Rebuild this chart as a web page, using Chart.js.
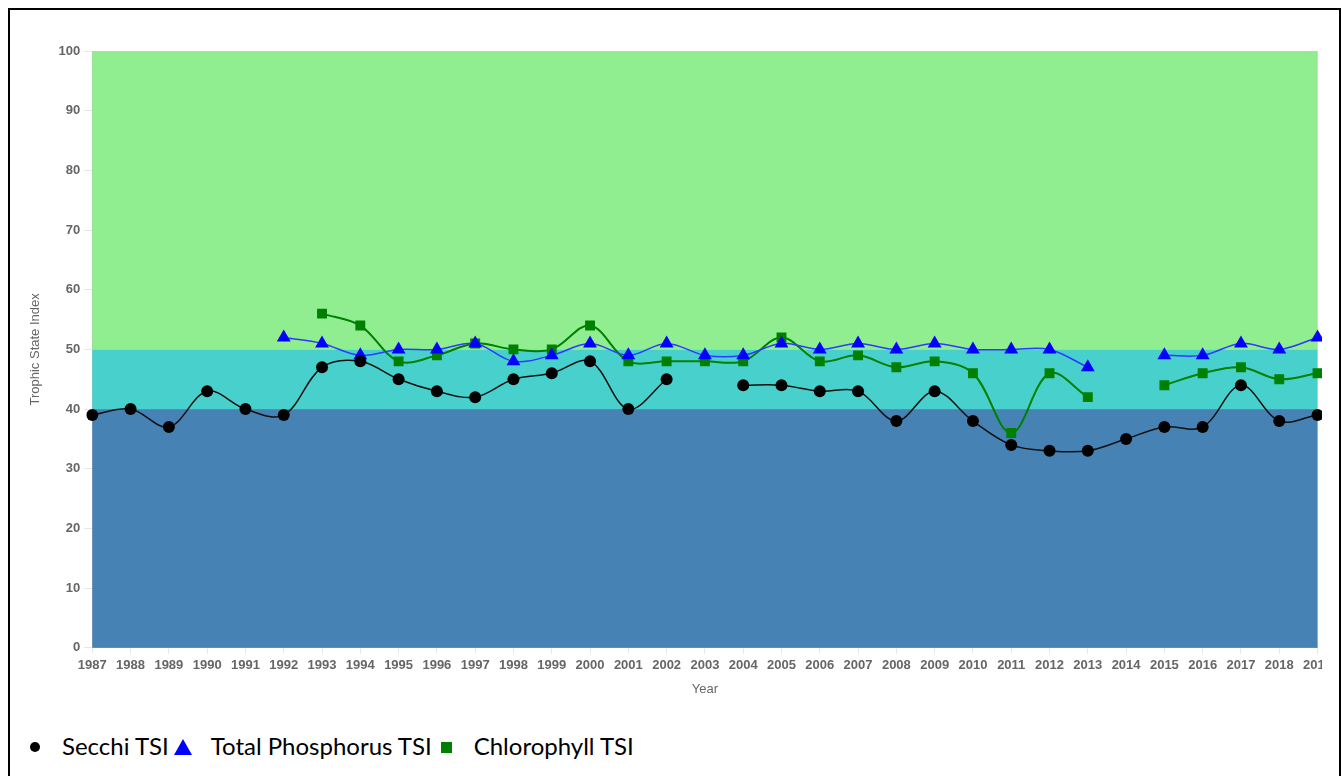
<!DOCTYPE html>
<html>
<head>
<meta charset="utf-8">
<script src="https://cdn.jsdelivr.net/npm/chart.js@4/dist/chart.umd.min.js"></script>
<style>
    html, body { margin: 0; padding: 0; background: #fff; }
    body { width: 1342px; height: 776px; overflow: hidden; position: relative; }
    #frame { position: absolute; left: 8px; top: 8px; width: 1333px; height: 800px; border: 2px solid #000; box-sizing: border-box; }
    #chart-wrap { position: absolute; left: 10px; top: 10px; width: 1312px; height: 687px; overflow: hidden; }
    #legend { position: absolute; left: 21px; top: 731px; font-family: Lato, "Noto Sans", sans-serif; font-size: 24px; color: #000; white-space: nowrap; }
    #legend .mark { display: inline-block; width: 27px; text-align: center; }
    #legend .label { margin-left: 14px; }
    #legend .label + .mark { margin-left: 1px; }
    .shape-circle { display: inline-block; width: 10px; height: 10px; border-radius: 50%; vertical-align: 3px; }
    .shape-triangle { display: inline-block; width: 0; height: 0; border-left: 9px solid transparent; border-right: 9px solid transparent; border-bottom-width: 16px; border-bottom-style: solid; vertical-align: 0; }
    .shape-rect { display: inline-block; width: 11px; height: 11px; vertical-align: 2px; }
</style>
</head>
<body>
<div id="frame"></div>
<div id="chart-wrap"><canvas id="tsiChart" width="1326" height="687"></canvas></div>
<div id="legend"></div>
<script>
const years = [1987, 1988, 1989, 1990, 1991, 1992, 1993, 1994, 1995, 1996, 1997, 1998, 1999, 2000, 2001, 2002, 2003,
    2004, 2005, 2006, 2007, 2008, 2009, 2010, 2011, 2012, 2013, 2014, 2015, 2016, 2017, 2018, 2019];
const secchi = [39, 40, 37, 43, 40, 39, 47, 48, 45, 43, 42, 45, 46, 48, 40, 45, null,
    44, 44, 43, 43, 38, 43, 38, 34, 33, 33, 35, 37, 37, 44, 38, 39];
const phosphorus = [null, null, null, null, null, 52, 51, 49, 50, 50, 51, 48, 49, 51, 49, 51, 49,
    49, 51, 50, 51, 50, 51, 50, 50, 50, 47, null, 49, 49, 51, 50, 52];
const chlorophyll = [null, null, null, null, null, null, 56, 54, 48, 49, 51, 50, 50, 54, 48, 48, 48,
    48, 52, 48, 49, 47, 48, 46, 36, 46, 42, null, 44, 46, 47, 45, 46];

// trophic state bands (TSI limits)
const bandLimits = [0, 40, 50, 100];
const bandColors = ['#4682B4', '#48D1CC', '#90EE90'];

const bandPlugin = {
    id: 'bands',
    beforeDatasetsDraw(chart) {
        const ctx = chart.ctx;
        const area = chart.chartArea;
        const y = chart.scales.y;
        ctx.save();
        for (let i = 0; i < bandColors.length; i++) {
            const top = y.getPixelForValue(bandLimits[i + 1]);
            const bottom = y.getPixelForValue(bandLimits[i]);
            ctx.fillStyle = bandColors[i];
            ctx.fillRect(area.left, top, area.right - area.left, bottom - top);
        }
        ctx.restore();
    }
};

const tickFont = { family: '"Liberation Sans", Arial, sans-serif', size: 13, weight: 'bold' };
const titleFont = { family: '"Liberation Sans", Arial, sans-serif', size: 13 };

const chart = new Chart(document.getElementById('tsiChart'), {
    type: 'line',
    data: {
        labels: years,
        datasets: [{
            label: 'Secchi TSI',
            data: secchi,
            borderColor: '#111',
            backgroundColor: '#000',
            borderWidth: 1.5,
            pointStyle: 'circle',
            pointRadius: 6,
            pointBorderWidth: 0,
            tension: 0.35,
            spanGaps: false,
            shape: 'circle'
        }, {
            label: 'Total Phosphorus TSI',
            data: phosphorus,
            borderColor: '#2a3cff',
            backgroundColor: '#0000ff',
            borderWidth: 1.5,
            pointStyle: 'triangle',
            pointRadius: 8,
            pointBorderWidth: 0,
            tension: 0.35,
            spanGaps: false,
            shape: 'triangle'
        }, {
            label: 'Chlorophyll TSI',
            data: chlorophyll,
            borderColor: '#008000',
            backgroundColor: '#008000',
            borderWidth: 2,
            pointStyle: 'rect',
            pointRadius: 7,
            pointBorderWidth: 0,
            tension: 0.35,
            spanGaps: false,
            shape: 'rect'
        }]
    },
    options: {
        responsive: false,
        animation: false,
        layout: { padding: { top: 41, left: 18, right: 0, bottom: 0 } },
        plugins: {
            legend: { display: false },
            tooltip: { enabled: false }
        },
        scales: {
            x: {
                offset: false,
                grid: { color: '#e6e6e6', tickLength: 6 },
                border: { color: '#c0c0c0' },
                ticks: { color: '#666', font: tickFont, maxRotation: 0, autoSkip: false, padding: 4 },
                title: { display: true, text: 'Year', color: '#666', font: titleFont, padding: { top: 4, bottom: 0 } }
            },
            y: {
                min: 0,
                max: 100,
                grid: { color: '#e6e6e6', tickLength: 8 },
                border: { color: '#c0c0c0' },
                ticks: { stepSize: 10, color: '#666', font: tickFont, padding: 4 },
                title: { display: true, text: 'Trophic State Index', color: '#666', font: titleFont, padding: { top: 0, bottom: 11 } }
            }
        }
    },
    plugins: [bandPlugin]
});

// html legend built from the datasets
const legend = document.getElementById('legend');
chart.data.datasets.forEach(function(ds) {
    const mark = document.createElement('span');
    mark.className = 'mark';
    const shape = document.createElement('span');
    shape.className = 'shape-' + ds.shape;
    if (ds.shape === 'triangle') {
        shape.style.borderBottomColor = ds.backgroundColor;
    } else {
        shape.style.background = ds.backgroundColor;
    }
    mark.appendChild(shape);
    const label = document.createElement('span');
    label.className = 'label';
    label.textContent = ds.label;
    legend.appendChild(mark);
    legend.appendChild(label);
});
</script>
</body>
</html>
